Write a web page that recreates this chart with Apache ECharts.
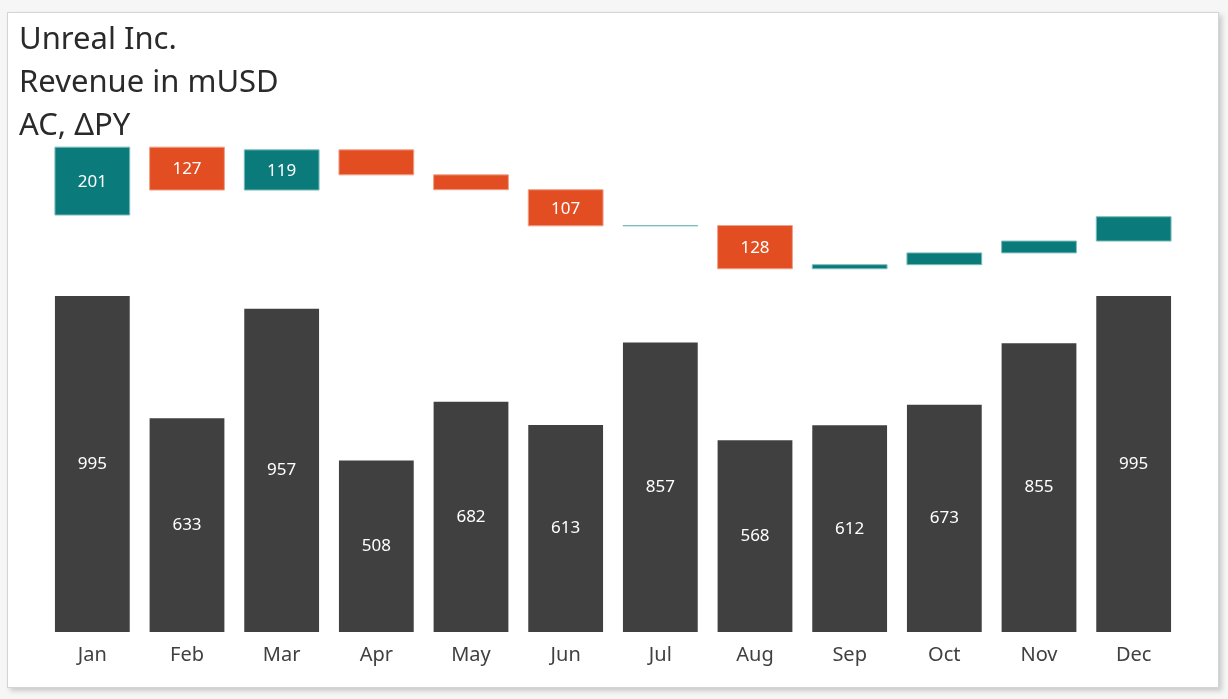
<!DOCTYPE html>
<html>
<head>
<meta charset="utf-8">
<script src="https://cdn.jsdelivr.net/npm/echarts@6/dist/echarts.min.js"></script>
<style>
  html, body { margin: 0; padding: 0; width: 1228px; height: 699px; background: #f6f6f6; overflow: hidden; }
  #panel { position: absolute; left: 7px; top: 12px; width: 1210px; height: 674px; background: #fff; border: 1px solid #d4d4d4; box-shadow: 3px 3px 5px rgba(0,0,0,0.18); }
  #chart { position: absolute; left: 0; top: 0; width: 1228px; height: 699px; }
</style>
</head>
<body>
<div id="panel"></div>
<div id="chart"></div>
<script>
const categories = ['Jan', 'Feb', 'Mar', 'Apr', 'May', 'Jun', 'Jul', 'Aug', 'Sep', 'Oct', 'Nov', 'Dec'];
const acValues = [995, 633, 957, 508, 682, 613, 857, 568, 612, 673, 855, 995];
const deltaPYValues = [201, -127, 119, -74, -44, -107, 1, -128, 12, 35, 35, 72];
const titleLines = ['Unreal Inc.', 'Revenue in mUSD', 'AC, \u0394PY'];

const FONT = '"Noto Sans", "Open Sans", sans-serif';
const DARK = '#404040';
const POS = '#0b7a7a';
const NEG = '#e24e22';
const POS_BORDER = '#7dbdbd';
const NEG_BORDER = '#f0a088';

// waterfall data: [index, start, end, delta]
let running = 0;
const waterfall = deltaPYValues.map((d, i) => {
  const start = running;
  running += d;
  return [i, start, running, d];
});

const chart = echarts.init(document.getElementById('chart'), null, { renderer: 'canvas' });

const option = {
  animation: false,
  textStyle: { fontFamily: FONT },
  title: {
    text: titleLines.join('\n'),
    left: 14,
    top: 14,
    textStyle: { fontFamily: FONT, fontSize: 31, fontWeight: 'normal', color: '#2a2a2a', lineHeight: 43 }
  },
  grid: [
    { left: 45, width: 1136, top: 294.3, height: 337.7 },
    { left: 45, width: 1136, top: 130.6, height: 152 }
  ],
  xAxis: [
    {
      type: 'category', gridIndex: 0, data: categories,
      axisLine: { show: false }, axisTick: { show: false },
      axisLabel: { fontFamily: FONT, fontSize: 20, color: '#404040', margin: 13 }
    },
    {
      type: 'category', gridIndex: 1, data: categories, show: false
    }
  ],
  yAxis: [
    { type: 'value', gridIndex: 0, min: 0, max: 1000, show: false, splitLine: { show: false } },
    { type: 'value', gridIndex: 1, min: -200, max: 250, show: false, splitLine: { show: false } }
  ],
  series: [
    {
      name: 'AC', type: 'bar', xAxisIndex: 0, yAxisIndex: 0,
      data: acValues, barWidth: '79%',
      itemStyle: { color: DARK },
      label: { show: true, position: 'inside', color: '#ffffff', fontFamily: FONT, fontSize: 17 }
    },
    {
      name: 'ΔPY', type: 'custom', xAxisIndex: 1, yAxisIndex: 1,
      data: waterfall,
      encode: { x: 0, y: [1, 2] },
      renderItem: function (params, api) {
        const idx = api.value(0);
        const s = api.value(1);
        const e = api.value(2);
        const d = api.value(3);
        const p0 = api.coord([idx, s]);
        const p1 = api.coord([idx, e]);
        const w = api.size([1, 0])[0] * 0.79;
        const top = Math.min(p0[1], p1[1]);
        const h = Math.abs(p1[1] - p0[1]);
        const pos = d >= 0;
        const children = [{
          type: 'rect',
          shape: { x: p0[0] - w / 2, y: top, width: w, height: h },
          style: { fill: pos ? POS : NEG, stroke: pos ? POS_BORDER : NEG_BORDER, lineWidth: 1 }
        }];
        if (Math.abs(d) >= 100) {
          children.push({
            type: 'text',
            style: {
              text: String(Math.abs(d)), x: p0[0], y: top + h / 2 + 1,
              align: 'center', verticalAlign: 'middle',
              fill: '#ffffff', font: '17px ' + FONT
            }
          });
        }
        return { type: 'group', children: children };
      }
    }
  ]
};
chart.setOption(option);
</script>
</body>
</html>
